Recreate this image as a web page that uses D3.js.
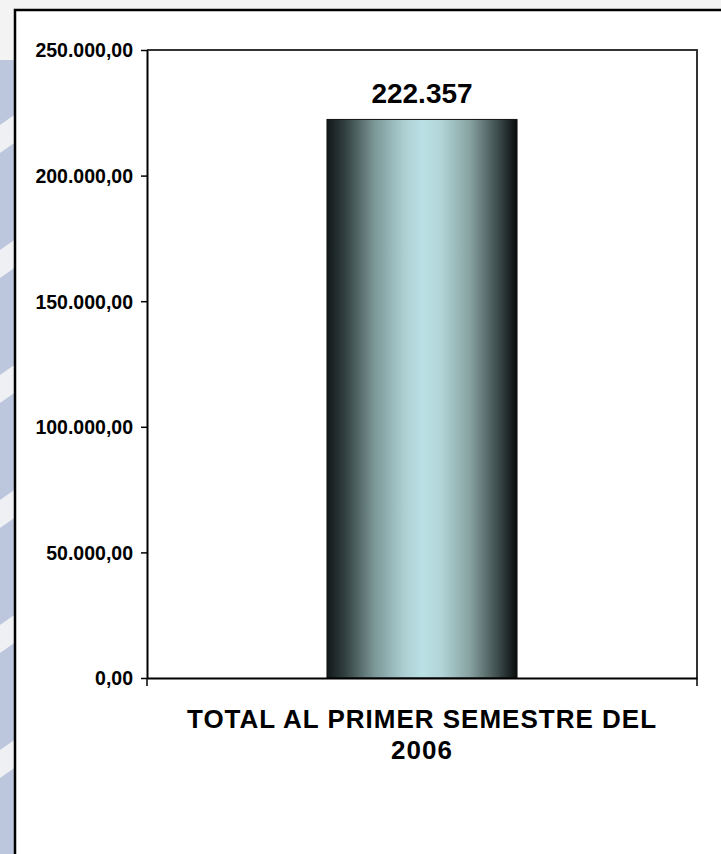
<!DOCTYPE html>
<html>
<head>
<meta charset="utf-8">
<script src="https://cdn.jsdelivr.net/npm/d3@7"></script>
<style>
    body { margin: 0; background: #f2f2f2; }
    svg { display: block; }
    text { font-family: Arial, 'Liberation Sans', sans-serif; font-weight: bold; fill: #000; }
</style>
</head>
<body>
<svg width="721" height="854"></svg>
<script>
// Chart data
var categories = ['TOTAL AL PRIMER SEMESTRE DEL 2006'];
var categoryLines = [['TOTAL AL PRIMER SEMESTRE DEL', '2006']];
var values = [222357];
var valueLabels = ['222.357'];
var yTicks = [0, 50000, 100000, 150000, 200000, 250000];

var svg = d3.select('svg');
var svgWidth = +svg.attr('width');
var svgHeight = +svg.attr('height');

// background: light grey with bluish diagonal stripes on the left
var defs = svg.append('defs');
var stripe = defs.append('pattern')
    .attr('id', 'stripes')
    .attr('patternUnits', 'userSpaceOnUse')
    .attr('width', 60).attr('height', 125)
    .attr('patternTransform', 'skewY(-35)');
stripe.append('rect').attr('width', 60).attr('height', 125).attr('fill', '#bcc7dd');
stripe.append('rect').attr('y', 0).attr('width', 60).attr('height', 28).attr('fill', '#eef0f4');

svg.append('rect').attr('width', svgWidth).attr('height', svgHeight).attr('fill', '#f3f3f3');
svg.append('rect').attr('x', 0).attr('y', 60).attr('width', 16).attr('height', svgHeight)
    .attr('fill', 'url(#stripes)');

// white chart box
svg.append('rect')
    .attr('x', 15).attr('y', 10)
    .attr('width', svgWidth + 10).attr('height', svgHeight + 10)
    .attr('fill', '#fff')
    .attr('stroke', '#000')
    .attr('stroke-width', 2.5);

var plot = {l: 147, r: 697, t: 50, b: 678};

var xScale = d3.scaleBand()
    .domain(categories)
    .range([plot.l, plot.r])
    .paddingInner(0)
    .paddingOuter(0.947);

var yScale = d3.scaleLinear()
    .domain([0, 250000])
    .range([plot.b, plot.t]);

var locale = d3.formatLocale({decimal: ',', thousands: '.', grouping: [3], currency: ['', '']});
var fmt = locale.format(',.2f');

// plot frame (top + right)
svg.append('path')
    .attr('d', 'M' + plot.l + ',' + yScale(250000) + 'H' + plot.r + 'V' + yScale(0))
    .attr('fill', 'none')
    .attr('stroke', '#333')
    .attr('stroke-width', 2);

// bar gradient
var grad = defs.append('linearGradient')
    .attr('id', 'barGrad')
    .attr('x1', '0%').attr('x2', '100%').attr('y1', '0%').attr('y2', '0%');
[
    ['0%', '#11181a'], ['10%', '#344242'], ['25%', '#7c9797'], ['40%', '#aacdd0'],
    ['50%', '#bae1e5'], ['60%', '#b1d5d8'], ['75%', '#88a3a2'], ['90%', '#3d4b4b'], ['100%', '#090c0d']
].forEach(function(s) {
    grad.append('stop').attr('offset', s[0]).attr('stop-color', s[1]);
});

svg.selectAll('.bar')
    .data(values)
    .enter()
    .append('rect')
    .attr('class', 'bar')
    .attr('x', function(d, i) { return xScale(categories[i]); })
    .attr('y', function(d) { return yScale(d); })
    .attr('width', xScale.bandwidth())
    .attr('height', function(d) { return yScale(0) - yScale(d); })
    .attr('fill', 'url(#barGrad)')
    .attr('stroke', '#111')
    .attr('stroke-width', 1);

// value labels
svg.selectAll('.vlabel')
    .data(values)
    .enter()
    .append('text')
    .attr('class', 'vlabel')
    .attr('x', function(d, i) { return xScale(categories[i]) + xScale.bandwidth() / 2; })
    .attr('y', function(d) { return yScale(d) - 16; })
    .attr('text-anchor', 'middle')
    .style('font-size', '28px')
    .text(function(d, i) { return valueLabels[i]; });

// y axis
var yAxisG = svg.append('g')
    .attr('transform', 'translate(' + plot.l + ',0)')
    .call(d3.axisLeft(yScale).tickValues(yTicks).tickFormat(fmt).tickSize(6).tickSizeOuter(0).tickPadding(8));
yAxisG.select('.domain').attr('stroke', '#000').attr('stroke-width', 2);
yAxisG.selectAll('.tick line').attr('stroke', '#000').attr('stroke-width', 1.5);
yAxisG.selectAll('.tick text')
    .style('font-size', '19.5px')
    .style('font-family', "Arial, 'Liberation Sans', sans-serif")
    .style('font-weight', 'bold')
    .attr('fill', '#000')
    .attr('dy', '0.35em');

// x axis
var xAxisG = svg.append('g')
    .attr('transform', 'translate(0,' + plot.b + ')')
    .call(d3.axisBottom(xScale).tickSize(0).tickSizeOuter(0).tickFormat(''));
xAxisG.select('.domain').attr('stroke', '#000').attr('stroke-width', 2);
xAxisG.selectAll('.edge')
    .data(xScale.range())
    .enter()
    .append('line')
    .attr('class', 'edge')
    .attr('x1', function(d) { return d; })
    .attr('x2', function(d) { return d; })
    .attr('y1', 0).attr('y2', 8)
    .attr('stroke', '#000')
    .attr('stroke-width', 1.5);

// category label
var catText = svg.selectAll('.clabel')
    .data(categories)
    .enter()
    .append('text')
    .attr('class', 'clabel')
    .attr('x', function(d) { return xScale(d) + xScale.bandwidth() / 2; })
    .attr('y', plot.b + 50)
    .attr('text-anchor', 'middle')
    .style('font-size', '26px')
    .style('letter-spacing', '1px');
catText.each(function(d, i) {
    var t = d3.select(this);
    categoryLines[i].forEach(function(line, j) {
        t.append('tspan')
            .attr('x', t.attr('x'))
            .attr('dy', j === 0 ? 0 : 31)
            .text(line);
    });
});
</script>
</body>
</html>
